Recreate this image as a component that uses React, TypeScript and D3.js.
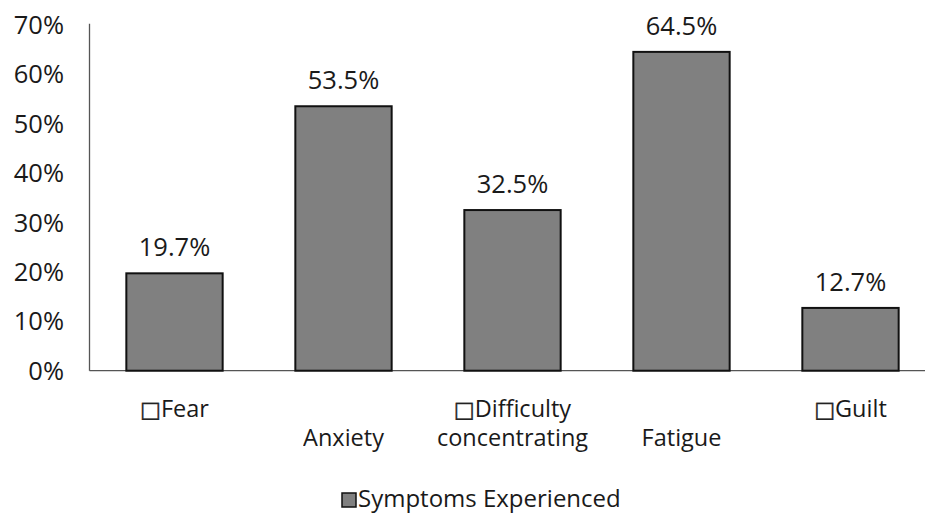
import React from "react";
import * as d3 from "d3";

const categories = ["Fear", "Anxiety", "Difficulty concentrating", "Fatigue", "Guilt"];
const labelLines: { box: boolean; text: string }[][] = [
  [{ box: true, text: "Fear" }, { box: false, text: "" }],
  [{ box: false, text: "" }, { box: false, text: "Anxiety" }],
  [{ box: true, text: "Difficulty" }, { box: false, text: "concentrating" }],
  [{ box: false, text: "" }, { box: false, text: "Fatigue" }],
  [{ box: true, text: "Guilt" }, { box: false, text: "" }],
];
const values = [19.7, 53.5, 32.5, 64.5, 12.7];
const valueLabels = ["19.7%", "53.5%", "32.5%", "64.5%", "12.7%"];
const yTicks = [0, 10, 20, 30, 40, 50, 60, 70];
const seriesName = "Symptoms Experienced";

const W = 925;
const H = 514;
const FONT = "'Open Sans', 'Noto Sans', sans-serif";
const BOXFONT = "'DejaVu Sans', sans-serif";

export default function App() {
  const x = d3
    .scaleBand<string>()
    .domain(categories)
    .range([90, 935])
    .paddingInner(0.43)
    .paddingOuter(0.215);
  const y = d3.scaleLinear().domain([0, 70]).range([370.7, 24.7]);
  const fill = "#808080";

  return (
    <svg
      width={W}
      height={H}
      style={{ position: "absolute", left: 0, top: 0, background: "#fff" }}
      fontFamily={FONT}
    >
      <line x1={89.5} x2={89.5} y1={y(70) - 1} y2={y(0)} stroke="#555" strokeWidth={1.3} />
      <line x1={89.5} x2={W} y1={y(0)} y2={y(0)} stroke="#555" strokeWidth={1.3} />
      {yTicks.map((t) => (
        <text
          key={t}
          x={64}
          y={y(t)}
          dy="0.36em"
          textAnchor="end"
          fontSize={25.5}
          fill="#1a1a1a"
        >
          {t}%
        </text>
      ))}
      {categories.map((c, i) => {
        const x0 = x(c)!;
        const bw = x.bandwidth();
        const cx = x0 + bw / 2;
        return (
          <g key={c}>
            <rect
              x={x0}
              y={y(values[i])}
              width={bw}
              height={y(0) - y(values[i])}
              fill={fill}
              stroke="#111"
              strokeWidth={2}
            />
            <text
              x={cx}
              y={y(values[i]) - 17}
              textAnchor="middle"
              fontSize={25.5}
              fill="#1a1a1a"
            >
              {valueLabels[i]}
            </text>
            {labelLines[i].map((ln, k) =>
              ln.text ? (
                <text
                  key={k}
                  x={cx}
                  y={417 + k * 29}
                  textAnchor="middle"
                  fontSize={23.5}
                  fill="#1a1a1a"
                  opacity={0.995}
                >
                  {ln.box ? (
                    <tspan fontFamily={BOXFONT} fontSize={22} fill="#222" stroke="#222" strokeWidth={0.4}>
                      {"\u25A1"}
                    </tspan>
                  ) : null}
                  {ln.text}
                </text>
              ) : null
            )}
          </g>
        );
      })}
      <g>
        <rect x={342} y={493} width={14} height={14} fill={fill} stroke="#111" strokeWidth={1.5} />
        <text x={358} y={507} fontSize={24} fill="#1a1a1a">
          {seriesName}
        </text>
      </g>
    </svg>
  );
}
